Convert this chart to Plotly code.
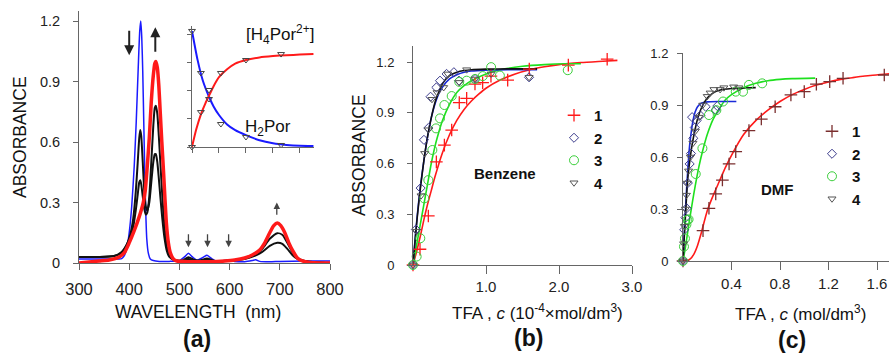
import plotly.graph_objects as go

FONT = "Arial, Liberation Sans, sans-serif"

# ---------------- Panel (a): spectra ----------------
wl_blue = [300, 320, 340, 360, 380, 385, 390, 395, 400, 405, 410, 414, 418, 421, 423, 425, 427, 429, 431, 433, 435, 438, 442, 448, 460, 480, 500, 510, 518, 526, 535, 545, 555, 565, 575, 590, 598, 610, 630, 645, 652, 660, 680, 700, 750, 800]
a_blue = [0.02, 0.02, 0.02, 0.02, 0.02, 0.022, 0.035, 0.07, 0.15, 0.28, 0.48, 0.7, 0.97, 1.15, 1.2, 1.12, 0.95, 0.7, 0.45, 0.25, 0.12, 0.05, 0.02, 0.012, 0.008, 0.008, 0.012, 0.03, 0.048, 0.03, 0.014, 0.025, 0.038, 0.02, 0.008, 0.012, 0.014, 0.008, 0.006, 0.012, 0.016, 0.008, 0.006, 0.008, 0.01, 0.01]

wl_red = [300, 320, 340, 360, 380, 390, 400, 410, 420, 428, 432, 436, 440, 444, 448, 451, 453, 456, 459, 462, 465, 468, 471, 474, 478, 482, 488, 495, 510, 530, 560, 590, 610, 630, 645, 660, 670, 680, 688, 695, 702, 710, 718, 726, 735, 745, 760, 780, 800]
a_red = [0.0, 0.005, 0.01, 0.015, 0.03, 0.05, 0.1, 0.16, 0.23, 0.3, 0.36, 0.48, 0.62, 0.8, 0.93, 0.99, 1.0, 0.97, 0.88, 0.74, 0.6, 0.47, 0.33, 0.2, 0.1, 0.05, 0.02, 0.01, 0.008, 0.006, 0.006, 0.01, 0.015, 0.025, 0.04, 0.065, 0.1, 0.15, 0.185, 0.198, 0.185, 0.15, 0.1, 0.06, 0.025, 0.01, 0.003, 0.0, 0.0]

wl_black = [300, 340, 370, 385, 395, 402, 408, 413, 417, 420, 422, 424, 427, 430, 433, 436, 440, 444, 448, 451, 453, 456, 459, 462, 466, 470, 475, 480, 490, 505, 518, 530, 540, 555, 570, 600, 630, 650, 665, 680, 695, 705, 715, 725, 735, 750, 775, 800]
a_black1 = [0.03, 0.03, 0.035, 0.05, 0.09, 0.14, 0.22, 0.35, 0.5, 0.62, 0.66, 0.63, 0.5, 0.36, 0.28, 0.26, 0.3, 0.4, 0.5, 0.54, 0.54, 0.5, 0.42, 0.33, 0.22, 0.13, 0.06, 0.03, 0.015, 0.012, 0.028, 0.015, 0.012, 0.022, 0.01, 0.012, 0.02, 0.035, 0.055, 0.085, 0.1, 0.095, 0.07, 0.04, 0.02, 0.008, 0.003, 0.0]
a_black2 = [0.03, 0.03, 0.035, 0.055, 0.09, 0.13, 0.18, 0.26, 0.34, 0.4, 0.41, 0.39, 0.33, 0.27, 0.24, 0.25, 0.33, 0.5, 0.68, 0.77, 0.78, 0.74, 0.63, 0.5, 0.33, 0.19, 0.08, 0.035, 0.015, 0.01, 0.02, 0.012, 0.01, 0.016, 0.008, 0.012, 0.022, 0.04, 0.07, 0.12, 0.148, 0.14, 0.1, 0.055, 0.025, 0.01, 0.003, 0.0]

# inset (fraction curves)
ins_blue_x = [0, 0.2, 0.4, 0.63, 0.8, 1.0, 1.3, 1.6, 2.0, 2.5, 3.0, 3.5, 4.0, 4.5]
ins_blue_y = [1.03, 0.78, 0.59, 0.446, 0.36, 0.284, 0.2, 0.15, 0.106, 0.06, 0.033, 0.018, 0.01, 0.008]
ins_red_x = [0, 0.15, 0.33, 0.5, 0.63, 0.8, 1.0, 1.3, 1.6, 2.0, 2.5, 3.0, 3.5, 4.0, 4.5]
ins_red_y = [0, 0.15, 0.29, 0.39, 0.455, 0.54, 0.62, 0.69, 0.74, 0.772, 0.795, 0.807, 0.815, 0.82, 0.825]
ins_pts_x = [0, 0.33, 0.63, 1.07, 2.0, 3.3]
ins_pts_blue = [1.03, 0.657, 0.426, 0.204, 0.089, 0.018]
ins_pts_red = [0, 0.31, 0.506, 0.657, 0.772, 0.825]

# ---------------- Panel (b): Benzene ----------------
b1_x = [0, 0.096, 0.21, 0.32, 0.43, 0.53, 0.634, 0.735, 0.849, 0.954, 1.068, 1.297, 1.593, 2.128, 2.66]
b1_y = [0, 0.093, 0.29, 0.61, 0.709, 0.798, 0.96, 0.985, 1.07, 1.078, 1.117, 1.093, 1.158, 1.182, 1.217]
b2_x = [0, 0.04, 0.105, 0.15, 0.21, 0.24, 0.32, 0.37, 0.46, 0.56, 0.63, 0.85, 1.59]
b2_y = [0, 0.21, 0.455, 0.74, 0.81, 0.995, 1.05, 1.09, 1.13, 1.14, 1.09, 1.1, 1.11]
b3_x = [0, 0.05, 0.1, 0.155, 0.21, 0.265, 0.315, 0.37, 0.43, 0.53, 0.634, 0.735, 0.85, 0.955, 1.07, 1.19, 2.12]
b3_y = [0, 0.05, 0.158, 0.394, 0.502, 0.68, 0.808, 0.867, 0.946, 0.999, 1.083, 1.09, 1.10, 1.117, 1.17, 1.12, 1.152]
b4_x = [0, 0.05, 0.11, 0.16, 0.21, 0.26, 0.33, 0.42, 0.475, 0.634, 0.735, 0.85, 1.07, 1.59]
b4_y = [0, 0.2, 0.41, 0.66, 0.8, 0.98, 1.02, 1.05, 1.13, 1.08, 1.155, 1.1, 1.13, 1.11]

bf1_x = [0, 0.05, 0.1, 0.15, 0.2, 0.25, 0.3, 0.4, 0.5, 0.6, 0.7, 0.8, 0.9, 1.0, 1.2, 1.4, 1.6, 1.8, 2.0, 2.3, 2.6, 2.8]
bf1_y = [0, 0.08, 0.17, 0.27, 0.36, 0.44, 0.52, 0.66, 0.77, 0.855, 0.92, 0.97, 1.01, 1.045, 1.095, 1.13, 1.155, 1.172, 1.185, 1.197, 1.205, 1.21]
bf2_x = [0, 0.03, 0.06, 0.1, 0.15, 0.2, 0.25, 0.3, 0.35, 0.4, 0.5, 0.6, 0.7, 0.8, 1.0, 1.3, 1.7]
bf2_y = [0, 0.16, 0.3, 0.46, 0.62, 0.76, 0.87, 0.95, 1.01, 1.05, 1.1, 1.125, 1.14, 1.147, 1.152, 1.155, 1.155]
bf3_x = [0, 0.05, 0.1, 0.15, 0.2, 0.25, 0.3, 0.35, 0.4, 0.5, 0.6, 0.7, 0.8, 1.0, 1.2, 1.5, 1.8, 2.1, 2.3]
bf3_y = [0, 0.12, 0.24, 0.36, 0.48, 0.6, 0.7, 0.78, 0.85, 0.95, 1.02, 1.06, 1.09, 1.13, 1.155, 1.175, 1.185, 1.19, 1.19]
bf4_x = [0, 0.03, 0.06, 0.1, 0.15, 0.2, 0.25, 0.3, 0.35, 0.4, 0.5, 0.6, 0.7, 0.8, 1.0, 1.3, 1.7]
bf4_y = [0, 0.15, 0.29, 0.45, 0.62, 0.76, 0.87, 0.96, 1.02, 1.07, 1.12, 1.14, 1.15, 1.155, 1.158, 1.16, 1.16]

# ---------------- Panel (c): DMF ----------------
c1_x = [0, 0.165, 0.214, 0.27, 0.325, 0.38, 0.435, 0.544, 0.646, 0.76, 0.89, 1.0, 1.1, 1.21, 1.32, 1.66]
c1_y = [0, 0.175, 0.304, 0.387, 0.467, 0.56, 0.631, 0.752, 0.819, 0.89, 0.958, 0.977, 1.02, 1.035, 1.054, 1.073]
c2_x = [0, 0.01, 0.02, 0.03, 0.04, 0.055, 0.066, 0.075, 0.085, 0.097, 0.112, 0.143, 0.187, 0.27, 0.283]
c2_y = [0, 0.18, 0.25, 0.304, 0.45, 0.56, 0.62, 0.83, 0.708, 0.77, 0.81, 0.84, 0.89, 0.871, 0.894]
c3_x = [0, 0.008, 0.016, 0.028, 0.036, 0.046, 0.105, 0.16, 0.214, 0.275, 0.33, 0.435, 0.495, 0.544, 0.653]
c3_y = [0, 0.083, 0.13, 0.21, 0.237, 0.24, 0.502, 0.65, 0.842, 0.87, 0.92, 0.977, 0.977, 1.016, 1.025]
c4_x = [0, 0.005, 0.012, 0.02, 0.028, 0.036, 0.046, 0.061, 0.082, 0.102, 0.133, 0.163, 0.2, 0.224, 0.255, 0.306, 0.337, 0.418, 0.46]
c4_y = [0, 0.1, 0.2, 0.3, 0.38, 0.45, 0.52, 0.6, 0.68, 0.75, 0.83, 0.9, 0.95, 0.97, 0.99, 0.99, 1.0, 1.005, 1.0]

cf1_x = [0, 0.03, 0.06, 0.09, 0.12, 0.15, 0.2, 0.25, 0.3, 0.35, 0.4, 0.5, 0.6, 0.7, 0.8, 0.9, 1.0, 1.1, 1.2, 1.3, 1.4, 1.5, 1.7]
cf1_y = [0, 0.002, 0.012, 0.04, 0.09, 0.16, 0.29, 0.38, 0.46, 0.54, 0.61, 0.73, 0.81, 0.87, 0.92, 0.96, 0.99, 1.015, 1.033, 1.048, 1.058, 1.067, 1.08]
cf2_x = [0, 0.01, 0.02, 0.03, 0.04, 0.05, 0.06, 0.08, 0.1, 0.12, 0.15, 0.2, 0.3, 0.44]
cf2_y = [0, 0.15, 0.29, 0.42, 0.53, 0.63, 0.7, 0.8, 0.86, 0.89, 0.91, 0.918, 0.92, 0.92]
cf3_x = [0, 0.02, 0.05, 0.08, 0.1, 0.13, 0.16, 0.2, 0.25, 0.3, 0.35, 0.4, 0.5, 0.6, 0.7, 0.8, 0.9, 1.09]
cf3_y = [0, 0.08, 0.22, 0.35, 0.43, 0.54, 0.63, 0.73, 0.82, 0.88, 0.93, 0.96, 1.0, 1.025, 1.04, 1.048, 1.052, 1.055]
cf4_x = [0, 0.01, 0.02, 0.03, 0.04, 0.06, 0.08, 0.1, 0.12, 0.15, 0.2, 0.25, 0.3, 0.4, 0.5, 0.6]
cf4_y = [0, 0.13, 0.26, 0.38, 0.48, 0.6, 0.69, 0.76, 0.82, 0.88, 0.94, 0.97, 0.985, 0.995, 0.998, 1.0]

series_names = ["<b>1</b>", "<b>2</b>", "<b>3</b>", "<b>4</b>"]

W, H = 889, 356
def px(x):
    return x / W
def py(y):
    return 1 - y / H

RED = "#ff1a1a"
BLUE = "#1a1aff"
GREEN = "#1ee01e"
NAVY = "#3c3c8c"
GRAY = "#555555"
MAROON = "#7a2e2e"

fig = go.Figure()

# panel a spectra
fig.add_trace(go.Scatter(x=wl_blue, y=a_blue, mode="lines", line=dict(color=BLUE, width=1.5, shape="spline", smoothing=0.6), xaxis="x", yaxis="y", showlegend=False))
fig.add_trace(go.Scatter(x=wl_black, y=a_black1, mode="lines", line=dict(color="#111111", width=2, shape="spline", smoothing=0.6), xaxis="x", yaxis="y", showlegend=False))
fig.add_trace(go.Scatter(x=wl_black, y=a_black2, mode="lines", line=dict(color="#111111", width=2, shape="spline", smoothing=0.6), xaxis="x", yaxis="y", showlegend=False))
fig.add_trace(go.Scatter(x=wl_red, y=a_red, mode="lines", line=dict(color=RED, width=3.5, shape="spline", smoothing=0.6), xaxis="x", yaxis="y", showlegend=False))

# inset
fig.add_trace(go.Scatter(x=ins_blue_x, y=ins_blue_y, mode="lines", line=dict(color=BLUE, width=2, shape="spline", smoothing=0.5), xaxis="x4", yaxis="y4", showlegend=False))
fig.add_trace(go.Scatter(x=ins_red_x, y=ins_red_y, mode="lines", line=dict(color=RED, width=2, shape="spline", smoothing=0.5), xaxis="x4", yaxis="y4", showlegend=False))
for yy in (ins_pts_blue, ins_pts_red):
    fig.add_trace(go.Scatter(x=ins_pts_x, y=yy, mode="markers", marker=dict(symbol="triangle-down-open", size=6, color="#444444", line=dict(width=1)), xaxis="x4", yaxis="y4", showlegend=False, cliponaxis=False))

# panel b fits
for xx, yy, col in ((bf1_x, bf1_y, RED), (bf3_x, bf3_y, GREEN), (bf2_x, bf2_y, "#1a2ad8"), (bf4_x, bf4_y, "#111111")):
    fig.add_trace(go.Scatter(x=xx, y=yy, mode="lines", line=dict(color=col, width=1.6, shape="spline", smoothing=0.6), xaxis="x2", yaxis="y2", showlegend=False))

mk = [
    dict(symbol="cross-thin-open", size=9, color=RED, line=dict(width=1.3, color=RED)),
    dict(symbol="diamond-open", size=7, color=NAVY, line=dict(width=1, color=NAVY)),
    dict(symbol="circle-open", size=9, color="#3ccf3c", line=dict(width=1, color="#3ccf3c")),
    dict(symbol="triangle-down-open", size=7, color=GRAY, line=dict(width=1, color=GRAY)),
]
for (xx, yy), m, nm in zip(((b1_x, b1_y), (b2_x, b2_y), (b3_x, b3_y), (b4_x, b4_y)), mk, series_names):
    fig.add_trace(go.Scatter(x=xx, y=yy, mode="markers", marker=m, name=nm, xaxis="x2", yaxis="y2", legend="legend", cliponaxis=False))

# panel c fits
for xx, yy, col in ((cf1_x, cf1_y, RED), (cf3_x, cf3_y, GREEN), (cf2_x, cf2_y, "#1a2ad8"), (cf4_x, cf4_y, "#111111")):
    fig.add_trace(go.Scatter(x=xx, y=yy, mode="lines", line=dict(color=col, width=1.6, shape="spline", smoothing=0.6), xaxis="x3", yaxis="y3", showlegend=False))

mkc = [dict(symbol="cross-thin-open", size=9, color=MAROON, line=dict(width=1.3, color=MAROON)), mk[1], mk[2], mk[3]]
for (xx, yy), m, nm in zip(((c1_x, c1_y), (c2_x, c2_y), (c3_x, c3_y), (c4_x, c4_y)), mkc, series_names):
    fig.add_trace(go.Scatter(x=xx, y=yy, mode="markers", marker=m, name=nm, xaxis="x3", yaxis="y3", legend="legend2", cliponaxis=False))

AX = dict(showgrid=False, zeroline=False, showline=True, linecolor="#666666", linewidth=1,
          ticks="outside", tickcolor="#666666", tickwidth=1, color="#222222", automargin=False)

fig.update_layout(
    width=W, height=H, margin=dict(l=0, r=0, t=0, b=0, autoexpand=False),
    paper_bgcolor="white", plot_bgcolor="rgba(0,0,0,0)",
    font=dict(family=FONT, color="#222222"),
    xaxis=dict(AX, domain=[px(79), px(330)], range=[300, 800], tickvals=[300, 400, 500, 600, 700, 800],
               ticklen=6, tickfont=dict(size=16.5), anchor="y", ticklabelstandoff=5),
    yaxis=dict(AX, domain=[py(263), py(11)], range=[0, 1.25], tickvals=[0, 0.3, 0.6, 0.9, 1.2],
               ticktext=["0", "0.3", "0.6", "0.9", "1.2"], ticklen=5, tickfont=dict(size=14.5), anchor="x", ticklabelstandoff=10),
    xaxis2=dict(AX, domain=[px(413), px(632)], range=[0, 3.0], tickvals=[1, 2, 3], ticktext=["1.0", "2.0", "3.0"],
                ticklen=8, tickfont=dict(size=15), anchor="y2", ticklabelstandoff=0),
    yaxis2=dict(AX, domain=[py(265), py(46)], range=[0, 1.295], tickvals=[0, 0.3, 0.6, 0.9, 1.2],
                ticktext=["0", "0.3", "0.6", "0.9", "1.2"], ticklen=5, tickfont=dict(size=13), anchor="x2", ticklabelstandoff=10),
    xaxis3=dict(AX, domain=[px(683), 1.0], range=[0, 206 / 121.25], tickvals=[0.4, 0.8, 1.2, 1.6], ticktext=["0.4", "0.8", "1.2", "1.6"],
                ticklen=8, tickfont=dict(size=15), anchor="y3", ticklabelstandoff=1),
    yaxis3=dict(AX, domain=[py(261), py(53)], range=[0, 1.2], tickvals=[0, 0.3, 0.6, 0.9, 1.2],
                ticktext=["0", "0.3", "0.6", "0.9", "1.2"], ticklen=5, tickfont=dict(size=13), anchor="x3", ticklabelstandoff=6),
    xaxis4=dict(AX, domain=[px(192), px(314)], range=[0, 4.52], tickvals=[0, 1, 2, 3, 4], showticklabels=False,
                ticklen=5, anchor="y4"),
    yaxis4=dict(AX, domain=[py(147), py(26)], range=[0, 1.074], tickvals=[0, 0.25, 0.5, 0.75, 1.0], showticklabels=False,
                ticklen=4, anchor="x4"),
    legend=dict(x=px(554), y=py(99), xanchor="left", yanchor="top", bgcolor="rgba(0,0,0,0)",
                font=dict(size=15, color="#111111", family=FONT), tracegroupgap=0, itemwidth=30),
    legend2=dict(x=px(812), y=py(115), xanchor="left", yanchor="top", bgcolor="rgba(0,0,0,0)",
                 font=dict(size=15, color="#111111", family=FONT), tracegroupgap=0, itemwidth=30),
)

ann = []
def text(x, y, s, size, bold=False, angle=0, color="#111111"):
    ann.append(dict(xref="paper", yref="paper", x=px(x), y=py(y), text=("<b>%s</b>" % s) if bold else s,
                    showarrow=False, xanchor="center", yanchor="middle", textangle=angle,
                    font=dict(size=size, family=FONT, color=color)))

text(20, 137, "ABSORBANCE", 17.5, angle=-90)
text(198, 312, "WAVELENGTH  (nm)", 17.5)
text(197, 339, "(a)", 23, bold=True)
text(280, 35, "[H<sub>4</sub>Por<sup>2+</sup>]", 17)
text(268, 128, "H<sub>2</sub>Por", 17)
text(359, 155, "ABSORBANCE", 17.5, angle=-90)
text(537, 312, "TFA , <i>c</i> (10<sup>-4</sup>×mol/dm<sup>3</sup>)", 17)
text(528, 338, "(b)", 23, bold=True)
text(505, 173, "Benzene", 15, bold=True)
text(800, 313, "TFA , <i>c</i> (mol/dm<sup>3</sup>)", 17)
text(792, 340, "(c)", 23, bold=True)
text(777, 189, "DMF", 15, bold=True)

def arrow(x0, y0, x1, y1, width, size, color):
    ann.append(dict(xref="x", yref="y", axref="x", ayref="y", x=x1, y=y1, ax=x0, ay=y0, text="",
                    showarrow=True, arrowhead=2, arrowsize=size, arrowwidth=width, arrowcolor=color))

arrow(400, 1.16, 400, 1.03, 2, 1.0, "#222222")
arrow(452, 1.04, 452, 1.17, 2, 1.0, "#222222")
for w in (518, 556, 598):
    arrow(w, 0.15, w, 0.078, 1.3, 1.0, "#444444")
arrow(694, 0.232, 694, 0.30, 1.3, 1.0, "#444444")

fig.update_layout(annotations=ann)
fig.write_html("out.html", config={"displayModeBar": False},
               post_script="document.body.style.margin='0';document.body.style.overflow='hidden';")
